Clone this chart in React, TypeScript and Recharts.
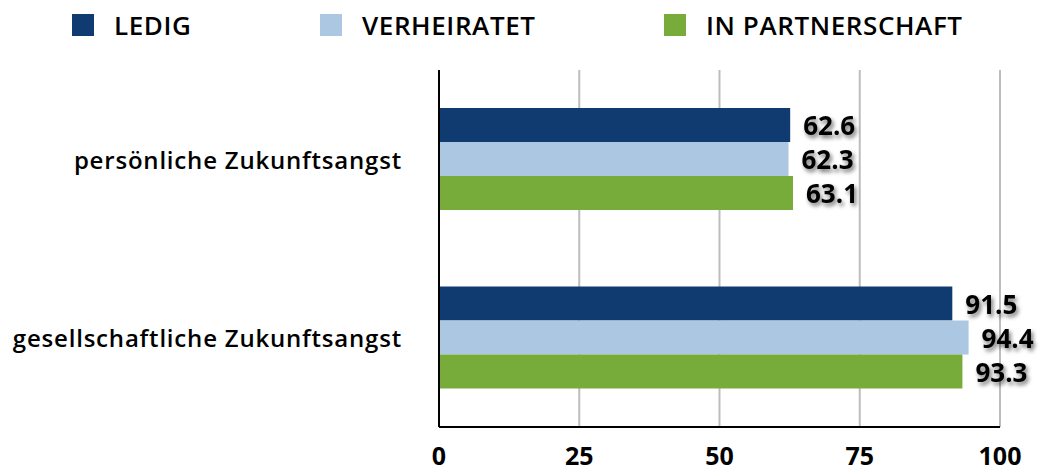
import { BarChart, Bar, XAxis, YAxis, CartesianGrid, LabelList } from 'recharts';

const categories = ['persönliche Zukunftsangst', 'gesellschaftliche Zukunftsangst'];
const ledig = [62.6, 91.5];
const verheiratet = [62.3, 94.4];
const partnerschaft = [63.1, 93.3];
const xTicks = [0, 25, 50, 75, 100];

const series = [
  { key: 'ledig', name: 'LEDIG', color: '#103b70' },
  { key: 'verheiratet', name: 'VERHEIRATET', color: '#abc7e1' },
  { key: 'partnerschaft', name: 'IN PARTNERSCHAFT', color: '#78ac3a' },
];

const data = categories.map((c, i) => ({
  name: c,
  ledig: ledig[i],
  verheiratet: verheiratet[i],
  partnerschaft: partnerschaft[i],
}));

const FONT = '"Open Sans", Lato, sans-serif';
const legendLeft = [72, 320, 664];

function ValueLabel(props: any) {
  const { x, y, width, height, value } = props;
  return (
    <text
      x={x + width + 13}
      y={y + height / 2}
      dominantBaseline="central"
      fontFamily={FONT}
      fontWeight={700}
      fontSize={26}
      fill="#000"
      filter="url(#lblShadow)"
    >
      {Number(value).toFixed(1)}
    </text>
  );
}

function CatTick(props: any) {
  const { x, y, payload } = props;
  return (
    <text
      x={x}
      y={y}
      textAnchor="end"
      dominantBaseline="central"
      fontFamily={FONT}
      fontWeight={600}
      fontSize={24}
      letterSpacing={0.8}
      fill="#000"
    >
      {payload.value}
    </text>
  );
}

export default function App() {
  return (
    <div style={{ width: 1047, height: 471, position: 'relative', background: '#fff' }}>
      <style>{`body{margin:0}`}</style>
      <svg width={0} height={0} style={{ position: 'absolute' }}>
        <defs>
          <filter id="lblShadow" x="-20%" y="-40%" width="150%" height="200%">
            <feDropShadow dx={2} dy={3} stdDeviation={2} floodColor="#000" floodOpacity={0.55} />
          </filter>
        </defs>
      </svg>
      {/* legend */}
      {series.map((s, i) => (
        <div
          key={s.key}
          style={{
            position: 'absolute',
            left: legendLeft[i],
            top: 10,
            height: 30,
            display: 'flex',
            alignItems: 'center',
            fontFamily: FONT,
            fontWeight: 600,
            fontSize: 26,
            letterSpacing: 0.6,
            color: '#000',
          }}
        >
          <span style={{ width: 22, height: 22, background: s.color, display: 'inline-block', marginRight: 20 }} />
          {s.name}
        </div>
      ))}
      <BarChart
        width={1047}
        height={471}
        data={data}
        layout="vertical"
        margin={{ top: 70, right: 47, bottom: 0, left: 0 }}
        barGap={0}
        barSize={34}
      >
        <CartesianGrid horizontal={false} stroke="#bdbdbd" strokeWidth={2} />
        <XAxis
          type="number"
          domain={[0, 100]}
          ticks={xTicks}
          axisLine={{ stroke: '#000', strokeWidth: 2 }}
          tickLine={false}
          height={44}
          tickMargin={14}
          tick={{ fontFamily: FONT, fontWeight: 700, fontSize: 25, fill: '#000' }}
        />
        <YAxis
          type="category"
          dataKey="name"
          width={439}
          axisLine={{ stroke: '#000', strokeWidth: 2 }}
          tickLine={false}
          tickMargin={31}
          tick={<CatTick />}
        />
        {series.map((s) => (
          <Bar key={s.key} dataKey={s.key} name={s.name} fill={s.color} isAnimationActive={false}>
            <LabelList dataKey={s.key} content={<ValueLabel />} />
          </Bar>
        ))}
      </BarChart>
    </div>
  );
}
